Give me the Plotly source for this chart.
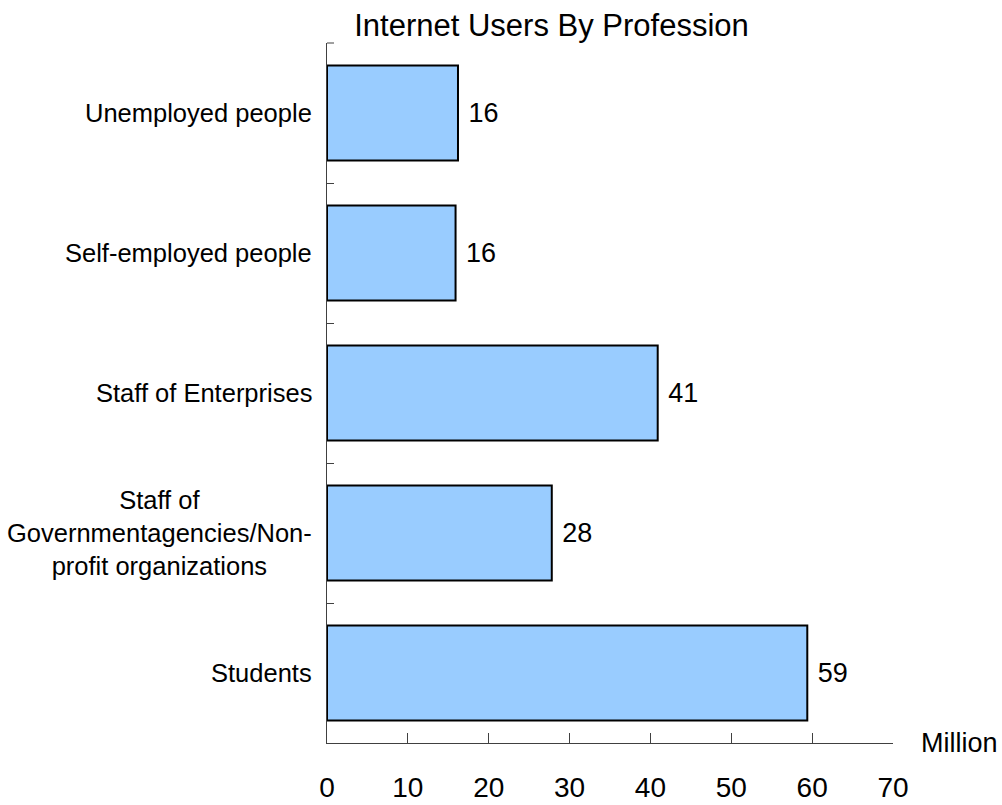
import plotly.graph_objects as go

# Internet users by profession (millions), bottom to top
categories = [
    "Students",
    "Staff of<br>Governmentagencies/Non-<br>profit organizations",
    "Staff of Enterprises",
    "Self-employed people",
    "Unemployed people",
]
users_million = [59.4, 27.8, 40.9, 15.9, 16.2]
x_ticks = [0, 10, 20, 30, 40, 50, 60, 70]

FONT = "Liberation Sans, Arial, sans-serif"
AXIS_COLOR = "#404040"
PLOT_W = 1002 - 327 - 109

fig = go.Figure(
    go.Bar(
        x=users_million,
        y=categories,
        orientation="h",
        width=0.68,
        marker=dict(color="#99CCFF", line=dict(color="black", width=2)),
        texttemplate=" %{x:.0f}",
        textposition="outside",
        textfont=dict(family=FONT, size=27, color="black"),
        cliponaxis=False,
    )
)

# Category labels drawn as centred multi-line annotations
annotations = [
    dict(
        text=cat,
        xref="paper", x=0, xanchor="right", xshift=-13,
        yref="y", y=cat, yanchor="middle",
        align="center", showarrow=False,
        font=dict(family=FONT, size=25.5, color="black"),
    )
    for cat in categories
]
annotations.append(
    dict(
        text="Million",
        xref="paper", x=1, xanchor="left", xshift=26,
        yref="paper", y=0, yanchor="middle",
        showarrow=False,
        font=dict(family=FONT, size=27, color="black"),
    )
)

# Top boundary tick of the category axis
shapes = [
    dict(
        type="line", xref="paper", yref="paper",
        x0=0, x1=7 / PLOT_W, y0=1, y1=1,
        line=dict(color=AXIS_COLOR, width=1),
    )
]

fig.update_layout(
    width=1002,
    height=805,
    margin=dict(l=327, r=109, t=43, b=62, autoexpand=False),
    paper_bgcolor="white",
    plot_bgcolor="white",
    showlegend=False,
    title=dict(
        text="Internet Users By Profession",
        font=dict(family=FONT, size=31, color="black"),
        xref="container", x=551.5 / 1002, xanchor="center",
        yref="container", y=1 - 25 / 805, yanchor="middle",
    ),
    annotations=annotations,
    shapes=shapes,
    xaxis=dict(
        range=[0, 70],
        tickvals=x_ticks,
        ticks="inside",
        ticklen=10,
        tickcolor=AXIS_COLOR,
        showline=True,
        linecolor=AXIS_COLOR,
        linewidth=1,
        showgrid=False,
        zeroline=False,
        automargin=False,
        ticklabelstandoff=19,
        tickfont=dict(family=FONT, size=28, color="black"),
    ),
    yaxis=dict(
        type="category",
        categoryorder="array",
        categoryarray=categories,
        range=[-0.5, 4.5],
        showticklabels=False,
        ticks="inside",
        tickson="boundaries",
        ticklen=7,
        tickcolor=AXIS_COLOR,
        showline=True,
        linecolor=AXIS_COLOR,
        linewidth=1,
        showgrid=False,
        zeroline=False,
        automargin=False,
    ),
)

fig.write_html("out.html")
